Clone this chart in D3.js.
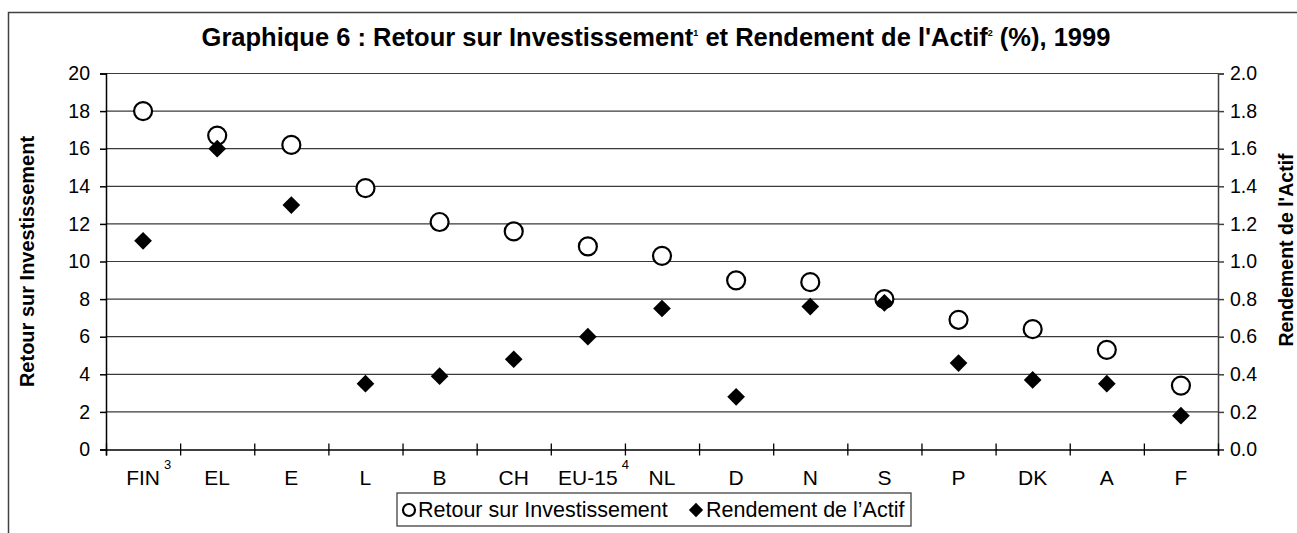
<!DOCTYPE html>
<html>
<head>
<meta charset="utf-8">
<script src="https://cdn.jsdelivr.net/npm/d3@7"></script>
<style>
  body { margin: 0; background: #fff; }
  svg { font-family: "Liberation Sans", Arial, sans-serif; }
</style>
</head>
<body>
<div class="content-container"></div>
<script>
// data
var categories = ["FIN", "EL", "E", "L", "B", "CH", "EU-15", "NL", "D", "N", "S", "P", "DK", "A", "F"];
var catNotes = ["3", "", "", "", "", "", "4", "", "", "", "", "", "", "", ""];
var roi = [18.0, 16.7, 16.2, 13.9, 12.1, 11.6, 10.8, 10.3, 9.0, 8.9, 8.0, 6.9, 6.4, 5.3, 3.4];
var roa = [1.11, 1.60, 1.30, 0.35, 0.39, 0.48, 0.60, 0.75, 0.28, 0.76, 0.78, 0.46, 0.37, 0.35, 0.18];
var leftTicks = [0, 2, 4, 6, 8, 10, 12, 14, 16, 18, 20];
var rightTicks = [0, 0.2, 0.4, 0.6, 0.8, 1.0, 1.2, 1.4, 1.6, 1.8, 2.0];

const width = 1297;
const height = 533;
const plotLeft = 106, plotRight = 1218, plotTop = 73.5, plotBottom = 449.5;

const svg = d3.select(".content-container")
  .append("svg")
  .attr("width", width)
  .attr("height", height);

// outer frame (right and bottom edges fall outside the picture)
svg.append("rect")
  .attr("x", 8.5).attr("y", 12.5)
  .attr("width", 1300).attr("height", 540)
  .attr("fill", "none")
  .attr("stroke", "#404040")
  .attr("stroke-width", 1.5);

// SCALES
const x = d3.scaleBand().domain(categories).range([plotLeft, plotRight]);
const xEdge = d3.scaleLinear().domain([0, categories.length]).range([plotLeft, plotRight]);
const yL = d3.scaleLinear().domain([0, 20]).range([plotBottom, plotTop]);
const yR = d3.scaleLinear().domain([0, 2]).range([plotBottom, plotTop]);

// gridlines
svg.append("g")
  .selectAll("line")
  .data(leftTicks.slice(1))
  .enter()
  .append("line")
  .attr("x1", plotLeft).attr("x2", plotRight)
  .attr("y1", d => yL(d)).attr("y2", d => yL(d))
  .attr("stroke", "#3a3a3a")
  .attr("stroke-width", 1.2);

// LEFT AXIS
const gl = svg.append("g")
  .attr("transform", "translate(" + plotLeft + ",0)")
  .call(d3.axisLeft(yL).tickValues(leftTicks).tickSize(6).tickPadding(10).tickFormat(d3.format("d")));
gl.selectAll("text").style("font-size", "19.5px").attr("fill", "#000");
gl.selectAll("line, path").attr("stroke", "#000").attr("stroke-width", 1.5);

// RIGHT AXIS
const gr = svg.append("g")
  .attr("transform", "translate(" + plotRight + ",0)")
  .call(d3.axisRight(yR).tickValues(rightTicks).tickSize(6).tickPadding(6).tickFormat(d3.format(".1f")));
gr.selectAll("text").style("font-size", "19.5px").attr("fill", "#000");
gr.selectAll("line, path").attr("stroke", "#404040").attr("stroke-width", 1.5);

// BOTTOM AXIS: crossing ticks on category boundaries
const gb = svg.append("g")
  .attr("transform", "translate(0," + plotBottom + ")")
  .call(d3.axisBottom(xEdge).ticks(categories.length).tickSize(6).tickFormat(""));
gb.selectAll("line").attr("y1", -6).attr("stroke", "#000").attr("stroke-width", 1.3);
gb.select("path").attr("stroke", "#000").attr("stroke-width", 1.5);

// category labels
const gc = svg.append("g")
  .attr("transform", "translate(0," + plotBottom + ")")
  .call(d3.axisBottom(x).tickSize(0).tickPadding(21));
gc.select("path").remove();
gc.selectAll("text")
  .style("font-size", "21px")
  .attr("fill", "#000");

// footnote numbers next to some labels
gc.selectAll(".tick").each(function (d, i) {
  if (!catNotes[i]) return;
  const t = d3.select(this).select("text");
  const w = t.node().getComputedTextLength();
  d3.select(this).append("text")
    .attr("x", w / 2 + 4)
    .attr("y", 19)
    .attr("fill", "#000")
    .attr("text-anchor", "start")
    .style("font-size", "13px")
    .text(catNotes[i]);
});

// POINTS
svg.append("g")
  .selectAll("circle")
  .data(roi)
  .enter()
  .append("circle")
  .attr("cx", (d, i) => x(categories[i]) + x.bandwidth() / 2)
  .attr("cy", d => yL(d))
  .attr("r", 9)
  .attr("fill", "#fff")
  .attr("stroke", "#000")
  .attr("stroke-width", 2.2);

const diamond = d3.symbol().type(d3.symbolDiamond2).size(200);
svg.append("g")
  .selectAll("path")
  .data(roa)
  .enter()
  .append("path")
  .attr("d", diamond)
  .attr("transform", (d, i) => "translate(" + (x(categories[i]) + x.bandwidth() / 2) + "," + yR(d) + ")")
  .attr("fill", "#000");

// TITLE
const title = svg.append("text")
  .attr("x", 656)
  .attr("y", 46)
  .attr("text-anchor", "middle")
  .style("font-size", "25.5px")
  .style("font-weight", "bold");
title.append("tspan").text("Graphique 6 : Retour sur Investissement");
title.append("tspan").attr("dy", -10).style("font-size", "9px").text("1");
title.append("tspan").attr("dy", 10).text(" et Rendement de l'Actif");
title.append("tspan").attr("dy", -10).style("font-size", "9px").text("2");
title.append("tspan").attr("dy", 10).text(" (%), 1999");

// AXIS TITLES
svg.append("text")
  .attr("transform", "translate(34," + ((plotTop + plotBottom) / 2) + ") rotate(-90)")
  .attr("text-anchor", "middle")
  .style("font-size", "20px")
  .style("font-weight", "bold")
  .text("Retour sur Investissement");

svg.append("text")
  .attr("transform", "translate(1293," + 250 + ") rotate(-90)")
  .attr("text-anchor", "middle")
  .style("font-size", "19.5px")
  .style("font-weight", "bold")
  .text("Rendement de l'Actif");

// LEGEND
const lg = svg.append("g").attr("transform", "translate(397,493)");
lg.append("rect")
  .attr("width", 514).attr("height", 33)
  .attr("fill", "#fff")
  .attr("stroke", "#404040")
  .attr("stroke-width", 1.3);
lg.append("circle")
  .attr("cx", 12).attr("cy", 17).attr("r", 6)
  .attr("fill", "#fff").attr("stroke", "#000").attr("stroke-width", 2.2);
lg.append("text")
  .attr("x", 21).attr("y", 24)
  .style("font-size", "21.5px")
  .text("Retour sur Investissement");
lg.append("path")
  .attr("d", d3.symbol().type(d3.symbolDiamond2).size(130))
  .attr("transform", "translate(" + 299 + ",17)")
  .attr("fill", "#000");
lg.append("text")
  .attr("x", 309).attr("y", 24)
  .style("font-size", "21.5px")
  .text("Rendement de l\u2019Actif");
</script>
</body>
</html>
